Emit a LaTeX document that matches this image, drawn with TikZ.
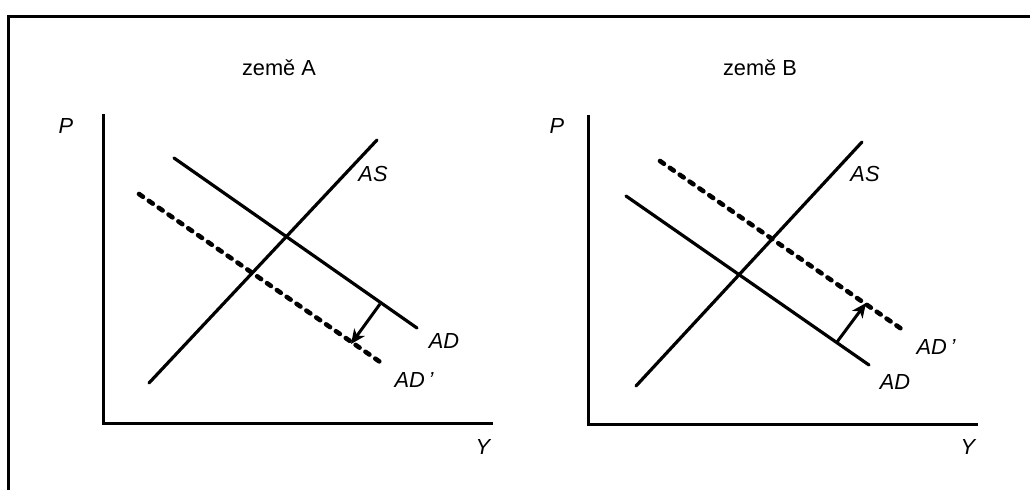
\documentclass[tikz,border=0pt]{standalone}
\usepackage{fontspec}
\setmainfont{Liberation Sans}
\usetikzlibrary{arrows.meta,positioning}
\tikzset{
  frm/.style={line width=0.75mm},
  axis/.style={line width=0.75mm},
  crv/.style={line width=0.8mm,line cap=round},
  dcrv/.style={line width=1.15mm,line cap=round,dash pattern=on 1.2mm off 1.8mm},
  arr/.style={-{Stealth[length=3.6mm,width=3.2mm,inset=1mm]},line width=0.75mm},
  lbl/.style={font=\fontsize{15.5}{18}\selectfont\itshape,inner sep=0pt},
  ttl/.style={font=\fontsize{15.5}{18}\selectfont,inner sep=0pt},
}

\begin{document}
\begin{tikzpicture}[x=0.25mm,y=-0.25mm]
    \useasboundingbox (0,0) rectangle (1030,490);
    % frame
    \coordinate (fBL) at (8,490);
    \coordinate (fTL) at (8,16);
    \coordinate (fTR) at (1030,16);
    \draw[frm] (fBL) -- (fTL) -- (fTR);

    % zeme A
    \node[ttl] (tA) at (279,68) {země A};
    \coordinate (oA) at (103,423);
    \coordinate (pA) at (103,114);
    \coordinate (yA) at (493,423);
    \draw[axis] (pA) -- (oA) -- (yA);
    \node[lbl] (lpA) at (66,126) {P};
    \node[lbl] (lyA) at (483,447) {Y};
    \coordinate (as0A) at (149,383);
    \coordinate (as1A) at (377,140);
    \coordinate (ad0A) at (174,158);
    \coordinate (ad1A) at (417,328);
    \coordinate (dd0A) at (139,194);
    \coordinate (dd1A) at (383,364);
    \draw[crv] (as0A) -- (as1A);
    \draw[crv] (ad0A) -- (ad1A);
    \draw[dcrv] (dd0A) -- (dd1A);
    \coordinate (s0A) at (380,304);
    \coordinate (s1A) at (351,344);
    \draw[arr] (s0A) -- (s1A);
    \node[lbl] (lasA) at (373,174) {AS};
    \node[lbl] (ladA) at (444,341) {AD};
    \node[lbl] (lddA) at (414,380) {AD\,'};

    % zeme B
    \node[ttl] (tB) at (760,68) {země B};
    \coordinate (oB) at (588,424);
    \coordinate (pB) at (588,115);
    \coordinate (yB) at (978,424);
    \draw[axis] (pB) -- (oB) -- (yB);
    \node[lbl] (lpB) at (557,126) {P};
    \node[lbl] (lyB) at (968,447) {Y};
    \coordinate (as0B) at (636,386);
    \coordinate (as1B) at (862,142);
    \coordinate (ad0B) at (626,196);
    \coordinate (ad1B) at (869,365);
    \coordinate (dd0B) at (660,161);
    \coordinate (dd1B) at (903,330);
    \draw[crv] (as0B) -- (as1B);
    \draw[crv] (ad0B) -- (ad1B);
    \draw[dcrv] (dd0B) -- (dd1B);
    \coordinate (s0B) at (837,342);
    \coordinate (s1B) at (866,303);
    \draw[arr] (s0B) -- (s1B);
    \node[lbl] (lasB) at (865,174) {AS};
    \node[lbl] (lddB) at (936,347) {AD\,'};
    \node[lbl] (ladB) at (895,382) {AD};
  \end{tikzpicture}
\end{document}
